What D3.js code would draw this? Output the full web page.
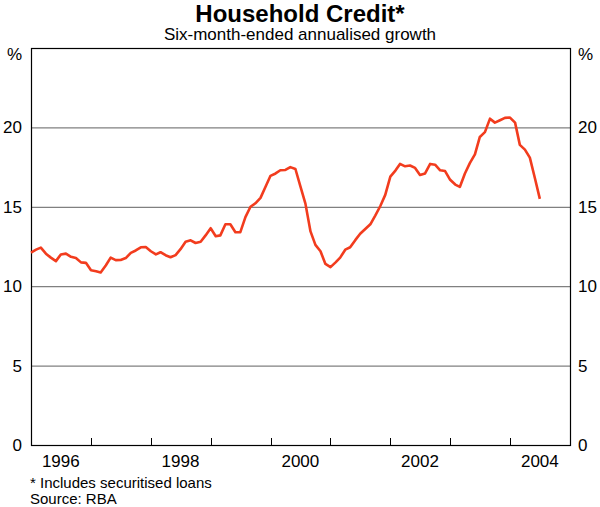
<!DOCTYPE html>
<html>
<head>
<meta charset="utf-8">
<script src="https://cdn.jsdelivr.net/npm/d3@7"></script>
<style>
  body { margin: 0; background: #fff; }
  text { font-family: "Liberation Sans", Arial, sans-serif; fill: #000; }
</style>
</head>
<body>
<div id="viz"></div>
<script>
// monthly, Jan 1996 onwards
const startYear = 1996;
const growth = [
  12.12, 12.3, 12.43, 12.05, 11.8, 11.58, 12.0, 12.05, 11.85, 11.78, 11.5, 11.47,
  11.0, 10.94, 10.86, 11.3, 11.8, 11.64, 11.65, 11.77, 12.1, 12.25, 12.45, 12.47,
  12.2, 12.0, 12.14, 11.95, 11.82, 11.96, 12.33, 12.8, 12.89, 12.72, 12.8, 13.2,
  13.65, 13.15, 13.2, 13.9, 13.9, 13.4, 13.4, 14.35, 15.0, 15.22, 15.56, 16.25,
  16.95, 17.1, 17.3, 17.32, 17.5, 17.38, 16.3, 15.2, 13.45, 12.6, 12.2, 11.4,
  11.2, 11.5, 11.8, 12.3, 12.45, 12.9, 13.3, 13.6, 13.9, 14.45, 15.05, 15.75,
  16.9, 17.28, 17.7, 17.55, 17.6, 17.45, 17.0, 17.1, 17.7, 17.65, 17.3, 17.25,
  16.7, 16.4, 16.25, 17.1, 17.75, 18.3, 19.4, 19.7, 20.55, 20.3, 20.45, 20.6,
  20.62, 20.3, 18.9, 18.6, 18.1, 16.8, 15.5
];
const yTicks = [0, 5, 10, 15, 20];
const yearLabels = [1996, 1998, 2000, 2002, 2004];
const yearTicks = [1997, 1998, 1999, 2000, 2001, 2002, 2003, 2004];

const data = growth.map((v, i) => ({ date: new Date(startYear, i, 1), value: v }));

const W = 600, H = 507;
const margin = { left: 31, right: 30, top: 48, bottom: 62 };
const width = W - margin.left - margin.right;
const height = H - margin.top - margin.bottom;

const svg = d3.select("#viz").append("svg")
  .attr("width", W)
  .attr("height", H);

const x = d3.scaleTime()
  .domain([new Date(1996, 0, 1), new Date(2005, 0, 1)])
  .range([margin.left, margin.left + width]);

const y = d3.scaleLinear()
  .domain([0, 25])
  .range([margin.top + height, margin.top]);

// grid
svg.append("g")
  .selectAll("line")
  .data(yTicks.filter(d => d > 0))
  .join("line")
  .attr("x1", margin.left)
  .attr("x2", margin.left + width)
  .attr("y1", d => y(d) + 0.5)
  .attr("y2", d => y(d) + 0.5)
  .attr("stroke", "#808080")
  .attr("stroke-width", 1.2);

// x ticks (year boundaries, pointing up)
svg.append("g")
  .selectAll("line")
  .data(yearTicks)
  .join("line")
  .attr("x1", d => Math.round(x(new Date(d, 0, 1))) + 0.5)
  .attr("x2", d => Math.round(x(new Date(d, 0, 1))) + 0.5)
  .attr("y1", y(0))
  .attr("y2", y(0) - 7)
  .attr("stroke", "#000");

// frame
svg.append("rect")
  .attr("x", margin.left + 0.5)
  .attr("y", margin.top + 0.5)
  .attr("width", width)
  .attr("height", height)
  .attr("fill", "none")
  .attr("stroke", "#000")
  .attr("stroke-width", 1.2);

// line
const line = d3.line()
  .x(d => x(d.date))
  .y(d => y(d.value));

svg.append("path")
  .datum(data)
  .attr("d", line)
  .attr("fill", "none")
  .attr("stroke", "#f23c1e")
  .attr("stroke-width", 2.6)
  .attr("stroke-linejoin", "round");

// y labels both sides
svg.append("g")
  .selectAll("text")
  .data(yTicks)
  .join("text")
  .attr("x", margin.left - 9)
  .attr("y", d => y(d) + 6)
  .attr("text-anchor", "end")
  .attr("font-size", "17px")
  .text(d => d);

svg.append("g")
  .selectAll("text")
  .data(yTicks)
  .join("text")
  .attr("x", margin.left + width + 8)
  .attr("y", d => y(d) + 6)
  .attr("text-anchor", "start")
  .attr("font-size", "17px")
  .text(d => d);

svg.append("text")
  .attr("x", margin.left - 9)
  .attr("y", 60)
  .attr("text-anchor", "end")
  .attr("font-size", "17px")
  .text("%");

svg.append("text")
  .attr("x", margin.left + width + 8)
  .attr("y", 60)
  .attr("text-anchor", "start")
  .attr("font-size", "17px")
  .text("%");

// x labels centred in the year
svg.append("g")
  .selectAll("text")
  .data(yearLabels)
  .join("text")
  .attr("x", d => x(new Date(d, 6, 1)))
  .attr("y", 467)
  .attr("text-anchor", "middle")
  .attr("font-size", "17px")
  .text(d => d);

// titles
svg.append("text")
  .attr("x", W / 2)
  .attr("y", 22)
  .attr("text-anchor", "middle")
  .attr("font-size", "24px")
  .attr("font-weight", "bold")
  .text("Household Credit*");

svg.append("text")
  .attr("x", W / 2)
  .attr("y", 40)
  .attr("text-anchor", "middle")
  .attr("font-size", "17px")
  .text("Six-month-ended annualised growth");

// notes
svg.append("text")
  .attr("x", 30)
  .attr("y", 488)
  .attr("font-size", "15px")
  .text("* Includes securitised loans");

svg.append("text")
  .attr("x", 30)
  .attr("y", 504)
  .attr("font-size", "15px")
  .text("Source: RBA");
</script>
</body>
</html>
